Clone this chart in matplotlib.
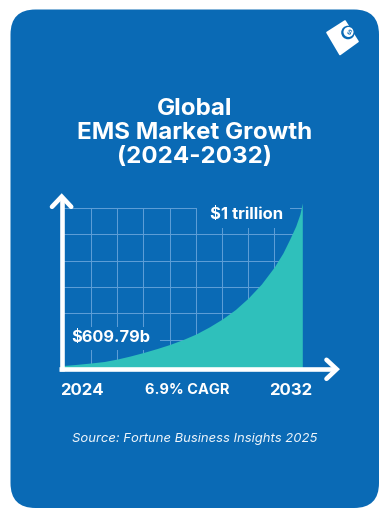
"""Global EMS market growth card: teal area curve on a blue rounded card."""

import matplotlib
matplotlib.use("Agg")
import matplotlib.pyplot as plt
from matplotlib.patches import Circle, FancyBboxPatch, Polygon, Rectangle

plt.rcParams["font.family"] = ["Inter", "DejaVu Sans"]

BLUE = "#0a6ab5"
TEAL = "#2fc0bb"
GRID = "#5c9dd6"
WHITE = "#ffffff"

W, H = 389, 518

# curve
years = [2024.00, 2024.40, 2024.92, 2025.37, 2025.81, 2026.24, 2026.68, 2027.14,
         2027.56, 2028.01, 2028.44, 2028.88, 2029.32, 2029.76, 2030.19, 2030.63,
         2031.06, 2031.35, 2031.58, 2031.78, 2031.92, 2032.00]
values = [609.8, 612.2, 615.8, 619.4, 625.4, 632.6, 641.0, 650.6,
          660.2, 672.2, 685.4, 702.2, 721.4, 744.2, 771.8, 805.4,
          846.2, 879.8, 913.4, 944.6, 973.4, 1000.0]

grid_years = [2024.92, 2025.81, 2026.68, 2027.56, 2028.44, 2029.32, 2030.19, 2031.06, 2032.00]
grid_values = [987.2, 924.8, 860.7, 797.6, 735.1, 671.7]

title_lines = ["Global", "EMS Market Growth", "(2024-2032)"]
start_label = "$609.79b"
end_label = "$1 trillion"
x_labels = ["2024", "6.9% CAGR", "2032"]
source = "Source: Fortune Business Insights 2025"

fig = plt.figure(figsize=(W / 100, H / 100), dpi=100, facecolor=WHITE)

# pixel-space layer for the card
bg = fig.add_axes([0, 0, 1, 1], zorder=0)
bg.set_xlim(0, W)
bg.set_ylim(H, 0)
bg.axis("off")
bg.add_patch(FancyBboxPatch((10.5 + 25, 9.5 + 25), 368.5 - 50, 498.5 - 50,
                            boxstyle="round,pad=25,rounding_size=25",
                            fc=BLUE, ec="none"))

# chart axes, pixel box is x 63.3-302.3, y 195-369
left, right, top, bottom = 63.3, 302.3, 195.0, 369.0
ax = fig.add_axes([left / W, 1 - bottom / H, (right - left) / W, (bottom - top) / H], zorder=1)
ax.set_xlim(2024, 2032)
ax.set_ylim(601.4, 1019.2)
ax.axis("off")
ax.patch.set_alpha(0)
ax.vlines(grid_years, 601.4, grid_values[0], color=GRID, lw=0.75, zorder=1)
ax.hlines(grid_values, 2024, 2032, color=GRID, lw=0.75, zorder=1)
# gaps in the grid behind the two value labels
ax.add_patch(Rectangle((197, 200), 93, 28, fc=BLUE, ec="none", zorder=1.5,
                       transform=bg.transData, clip_on=False))
ax.add_patch(Rectangle((62, 326.5), 98, 23.5, fc=BLUE, ec="none", zorder=1.5,
                       transform=bg.transData, clip_on=False))
ax.fill_between(years, values, 601.4, color=TEAL, lw=0, zorder=2)

# top layer
fg = fig.add_axes([0, 0, 1, 1], zorder=2)
fg.set_xlim(0, W)
fg.set_ylim(H, 0)
fg.axis("off")
fg.patch.set_alpha(0)

arrow_lw = 4.6 * 0.72
fg.plot([61.7, 61.7], [197, 371.3], color=WHITE, lw=arrow_lw, solid_capstyle="butt")
fg.plot([59.4, 336], [369.2, 369.2], color=WHITE, lw=arrow_lw, solid_capstyle="butt")
fg.plot([52, 61.7, 71.2], [206.8, 196.6, 206.8], color=WHITE, lw=arrow_lw,
        solid_capstyle="round", solid_joinstyle="miter")
fg.plot([326.5, 336.6, 326.5], [359.8, 369.2, 378.8], color=WHITE, lw=arrow_lw,
        solid_capstyle="round", solid_joinstyle="miter")

for y, line in zip([115, 139.3, 163.5], title_lines):
    fg.text(194.5, y, line, color=WHITE, fontsize=17.4, fontweight="bold",
            ha="center", va="baseline")

fg.text(246.7, 215, end_label, color=WHITE, fontsize=12, fontweight="bold",
        ha="center", va="center")
fg.text(111, 337.3, start_label, color=WHITE, fontsize=11.8, fontweight="bold",
        ha="center", va="center")
for x, label, size in zip([81.7, 186.7, 291], x_labels, [12, 10.5, 12]):
    fg.text(x, 390.5, label, color=WHITE, fontsize=size, fontweight="bold",
            ha="center", va="center")
fg.text(194.7, 439, source, color="#eef5fb", fontsize=9.4, style="italic",
        ha="center", va="center")

# logo
fg.add_patch(Polygon([(327, 32.5), (345, 21), (358, 41.5), (340, 54.5)], closed=True,
                     fc=WHITE, ec=WHITE, lw=1.2, joinstyle="round"))
fg.add_patch(Circle((348, 32.5), 6.8, fc=BLUE, ec="none"))
fg.add_patch(Circle((348.5, 32), 5.0, fc=WHITE, ec="none"))
fg.text(348.5, 32, "S", color=BLUE, fontsize=5, fontweight="bold", ha="center",
        va="center", rotation=-30)

fig.savefig("out.png", dpi=100, facecolor=WHITE)
